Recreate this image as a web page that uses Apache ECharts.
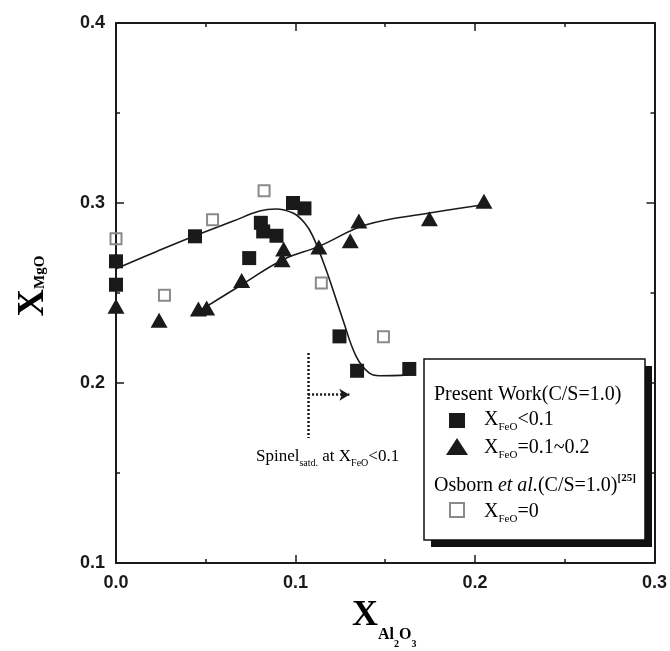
<!DOCTYPE html>
<html>
<head>
<meta charset="utf-8">
<script src="https://cdn.jsdelivr.net/npm/echarts@6/dist/echarts.min.js"></script>
<style>
  html, body { margin: 0; padding: 0; background: #fff; }
  #chart { width: 670px; height: 651px; }
</style>
</head>
<body>
<div id="chart"></div>
<script>
// Present work, X(FeO) < 0.1
const squareX = [0, 0, 0.044, 0.0742, 0.0807, 0.082, 0.0894, 0.0986, 0.105, 0.1245, 0.1343, 0.1634];
const squareY = [0.2676, 0.2546, 0.2815, 0.2694, 0.289, 0.2842, 0.2818, 0.300, 0.297, 0.2259, 0.2068, 0.2078];

// Present work, X(FeO) = 0.1~0.2
const triangleX = [0, 0.024, 0.0459, 0.0505, 0.070, 0.0925, 0.0934, 0.113, 0.1305, 0.1353, 0.1746, 0.205];
const triangleY = [0.2426, 0.2348, 0.2411, 0.2417, 0.257, 0.2685, 0.2744, 0.2755, 0.279, 0.290, 0.2913, 0.301];

// Osborn et al., X(FeO) = 0
const openX = [0, 0.027, 0.0538, 0.0825, 0.1144, 0.149];
const openY = [0.2802, 0.2487, 0.2907, 0.3068, 0.2556, 0.2257];

// trend line through the X(FeO) < 0.1 data
const trendLowX = [0, 0.0227, 0.044, 0.065, 0.08, 0.089, 0.0986, 0.105, 0.1097, 0.117, 0.1264, 0.1338, 0.141, 0.1468, 0.163];
const trendLowY = [0.2635, 0.2731, 0.2818, 0.2898, 0.2955, 0.2967, 0.2944, 0.289, 0.2815, 0.263, 0.2352, 0.2148, 0.2056, 0.204, 0.2045];

// trend line through the X(FeO) = 0.1~0.2 data
const trendMidX = [0.0422, 0.07, 0.093, 0.113, 0.1394, 0.1746, 0.205];
const trendMidY = [0.2374, 0.2546, 0.2685, 0.2759, 0.2879, 0.2944, 0.299];

// spinel saturation marker: vertical dotted line and dotted arrow
const spinelLineX = [0.107, 0.107];
const spinelLineY = [0.2167, 0.1694];
const spinelArrowX = [0.107, 0.130];
const spinelArrowY = [0.1935, 0.1935];

// axis ticks
const xTickValues = [0, 0.1, 0.2, 0.3];
const xTickLabels = ['0.0', '0.1', '0.2', '0.3'];
const yTickValues = [0.1, 0.2, 0.3, 0.4];
const yTickLabels = ['0.1', '0.2', '0.3', '0.4'];

const zip = (xs, ys) => xs.map((x, i) => [x, ys[i]]);
const tickLabel = (values, labels) => (v) => {
  const i = values.findIndex(t => Math.abs(t - v) < 1e-9);
  return i >= 0 ? labels[i] : '';
};

const SERIF = '"Liberation Serif", "DejaVu Serif", serif';
const SANS = '"Liberation Sans", Arial, sans-serif';
const INK = '#1a1a1a';

const frameLine = { show: true, onZero: false, lineStyle: { color: INK, width: 2 } };
const majorTick = { show: true, inside: true, length: 8, lineStyle: { color: INK, width: 1.5 } };
const minorTick = { show: true, splitNumber: 2, length: 4, lineStyle: { color: INK, width: 1.5 } };

const subRich = {
  m: { fontFamily: SERIF, fontSize: 20, color: INK },
  s: { fontFamily: SERIF, fontSize: 11, color: INK, padding: [14, 0, 0, 0] },
  it: { fontFamily: SERIF, fontSize: 20, fontStyle: 'italic', color: INK },
  sup: { fontFamily: SERIF, fontSize: 11, fontWeight: 'bold', color: INK, padding: [0, 0, 16, 0] }
};

const option = {
  animation: false,
  backgroundColor: '#fff',
  grid: { left: 116, top: 23, right: 14, bottom: 88, containLabel: false },
  xAxis: [
    {
      type: 'value', position: 'bottom', min: 0, max: 0.3, interval: 0.1,
      axisLine: frameLine, axisTick: majorTick, minorTick: minorTick,
      splitLine: { show: false },
      axisLabel: {
        margin: 11, color: INK, fontFamily: SANS, fontWeight: 'bold', fontSize: 18,
        formatter: tickLabel(xTickValues, xTickLabels)
      }
    },
    {
      type: 'value', position: 'top', min: 0, max: 0.3, interval: 0.1,
      axisLine: frameLine, axisTick: majorTick, minorTick: minorTick,
      splitLine: { show: false }, axisLabel: { show: false }
    }
  ],
  yAxis: [
    {
      type: 'value', position: 'left', min: 0.1, max: 0.4, interval: 0.1,
      axisLine: frameLine, axisTick: majorTick, minorTick: minorTick,
      splitLine: { show: false },
      axisLabel: {
        margin: 11, color: INK, fontFamily: SANS, fontWeight: 'bold', fontSize: 18,
        formatter: tickLabel(yTickValues, yTickLabels)
      }
    },
    {
      type: 'value', position: 'right', min: 0.1, max: 0.4, interval: 0.1,
      axisLine: frameLine, axisTick: majorTick, minorTick: minorTick,
      splitLine: { show: false }, axisLabel: { show: false }
    }
  ],
  series: [
    {
      name: 'trendLow', type: 'line', smooth: 0.4, showSymbol: false, silent: true,
      data: zip(trendLowX, trendLowY),
      lineStyle: { color: INK, width: 1.6 }, z: 2
    },
    {
      name: 'trendMid', type: 'line', smooth: 0.4, showSymbol: false, silent: true,
      data: zip(trendMidX, trendMidY),
      lineStyle: { color: INK, width: 1.6 }, z: 2
    },
    {
      name: 'X_FeO<0.1', type: 'scatter', symbol: 'rect', symbolSize: 14,
      data: zip(squareX, squareY),
      itemStyle: { color: INK, opacity: 1 }, z: 3,
      markLine: {
        silent: true, animation: false,
        label: { show: false },
        lineStyle: { color: INK, width: 2.5, type: [2, 2], opacity: 1 },
        data: [
          [
            { coord: [spinelLineX[0], spinelLineY[0]], symbol: 'none' },
            { coord: [spinelLineX[1], spinelLineY[1]], symbol: 'none' }
          ],
          [
            { coord: [spinelArrowX[0], spinelArrowY[0]], symbol: 'none' },
            { coord: [spinelArrowX[1], spinelArrowY[1]], symbol: 'arrow', symbolSize: [9, 10] }
          ]
        ]
      }
    },
    {
      name: 'X_FeO=0.1~0.2', type: 'scatter', symbol: 'triangle', symbolSize: [17, 15],
      data: zip(triangleX, triangleY),
      itemStyle: { color: INK, opacity: 1 }, z: 3
    },
    {
      name: 'X_FeO=0', type: 'scatter', symbol: 'rect', symbolSize: 11,
      data: zip(openX, openY),
      itemStyle: { color: 'rgba(255,255,255,0)', borderColor: '#8a8a8a', borderWidth: 2, opacity: 1 }, z: 3
    }
  ],
  graphic: [
    // axis titles
    {
      type: 'text', x: 352, y: 616,
      style: {
        text: '{x|X}{s|Al}{ss|2}{s|O}{ss|3}',
        textAlign: 'left', textVerticalAlign: 'middle',
        rich: {
          x: { fontFamily: SERIF, fontWeight: 'bold', fontSize: 36, color: INK },
          s: { fontFamily: SERIF, fontWeight: 'bold', fontSize: 16, color: INK, padding: [38, 0, 0, 0] },
          ss: { fontFamily: SERIF, fontWeight: 'bold', fontSize: 10, color: INK, padding: [56, 0, 0, 0] }
        }
      }
    },
    {
      type: 'text', x: 33, y: 286, rotation: Math.PI / 2,
      style: {
        text: '{x|X}{s|MgO}',
        textAlign: 'center', textVerticalAlign: 'middle',
        rich: {
          x: { fontFamily: SERIF, fontWeight: 'bold', fontSize: 38, color: INK },
          s: { fontFamily: SERIF, fontWeight: 'bold', fontSize: 15, color: INK, padding: [14, 0, 0, 0] }
        }
      }
    },
    // spinel saturation note
    {
      type: 'text', x: 256, y: 457,
      style: {
        text: '{m|Spinel}{s|satd.}{m| at X}{s|FeO}{m|<0.1}',
        textAlign: 'left', textVerticalAlign: 'middle',
        rich: {
          m: { fontFamily: SERIF, fontSize: 17, color: '#333' },
          s: { fontFamily: SERIF, fontSize: 10, color: '#333', padding: [12, 0, 0, 0] }
        }
      }
    },
    // legend box with drop shadow
    {
      type: 'group',
      children: [
        { type: 'rect', shape: { x: 431, y: 366, width: 221, height: 181 }, style: { fill: '#111' } },
        { type: 'rect', shape: { x: 424, y: 359, width: 221, height: 181 }, style: { fill: '#fff', stroke: '#111', lineWidth: 1.5 } },
        {
          type: 'text', x: 434, y: 395,
          style: { text: '{m|Present Work(C/S=1.0)}', textVerticalAlign: 'middle', rich: subRich }
        },
        { type: 'rect', shape: { x: 449, y: 413, width: 16, height: 15 }, style: { fill: INK } },
        {
          type: 'text', x: 484, y: 420,
          style: { text: '{m|X}{s|FeO}{m|<0.1}', textVerticalAlign: 'middle', rich: subRich }
        },
        { type: 'polygon', shape: { points: [[446, 455], [468, 455], [457, 438]] }, style: { fill: INK } },
        {
          type: 'text', x: 484, y: 448,
          style: { text: '{m|X}{s|FeO}{m|=0.1~0.2}', textVerticalAlign: 'middle', rich: subRich }
        },
        {
          type: 'text', x: 434, y: 486,
          style: { text: '{m|Osborn }{it|et al.}{m|(C/S=1.0)}{sup|[25]}', textVerticalAlign: 'middle', rich: subRich }
        },
        { type: 'rect', shape: { x: 450, y: 503, width: 14, height: 14 }, style: { fill: 'none', stroke: '#8a8a8a', lineWidth: 2 } },
        {
          type: 'text', x: 484, y: 512,
          style: { text: '{m|X}{s|FeO}{m|=0}', textVerticalAlign: 'middle', rich: subRich }
        }
      ]
    }
  ]
};

const chart = echarts.init(document.getElementById('chart'));
chart.setOption(option);
</script>
</body>
</html>
